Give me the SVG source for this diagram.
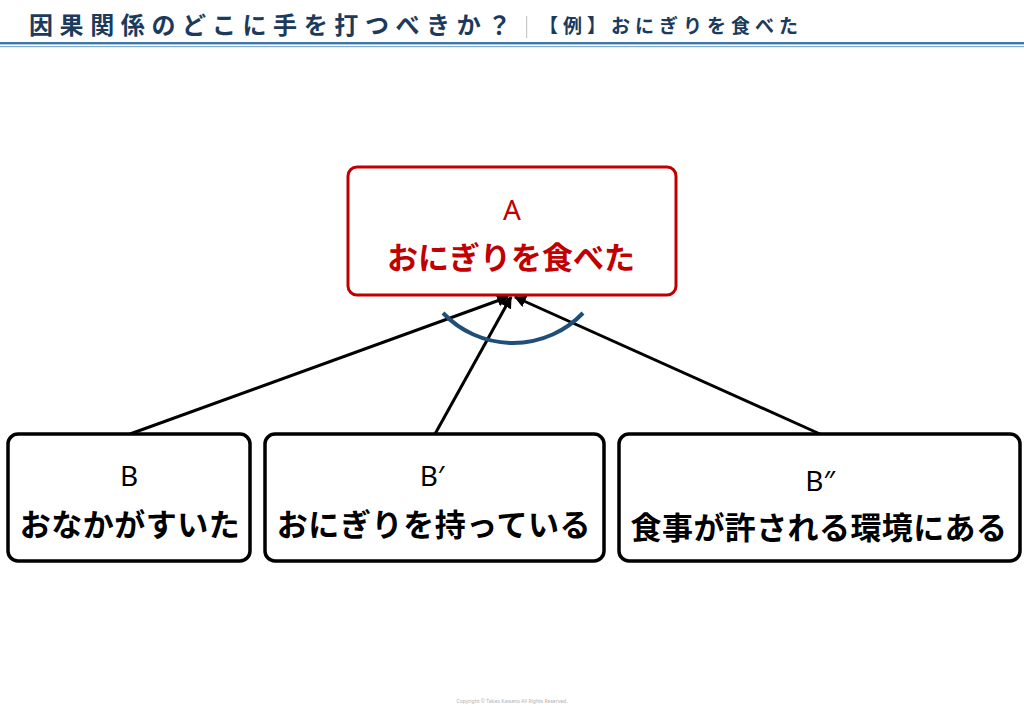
<svg xmlns="http://www.w3.org/2000/svg" width="1024" height="709" viewBox="0 0 1024 709">
<style>
.jp{font-family:"Noto Sans CJK JP","Noto Sans",sans-serif;font-weight:700}
.lat{font-family:"Noto Sans","DejaVu Sans",sans-serif;font-weight:400}
.box{fill:#fff;stroke:#000;stroke-width:3.5}
.conn{stroke:#000;stroke-width:3;fill:none;marker-end:url(#ah)}
</style>
<defs>
<marker id="ah" viewBox="0 0 10 10" refX="9" refY="5" markerWidth="4" markerHeight="4" orient="auto" markerUnits="strokeWidth">
<path d="M0,0 L10,5 L0,10 z" fill="#000"/>
</marker>
</defs>
<rect width="1024" height="709" fill="#fff"/>
<g id="header">
<text x="29" y="34" class="jp" font-size="24" letter-spacing="6.6" fill="#1b3a5c">因果関係のどこに手を打つべきか？</text>
<rect x="526" y="16" width="1.2" height="22" fill="#c8c8c8"/>
<text x="539" y="33" class="jp" font-size="19" letter-spacing="5" fill="#1b3a5c">【例】おにぎりを食べた</text>
<rect x="0" y="42" width="1024" height="2.4" fill="#3f78a6"/>
<rect x="0" y="46" width="1024" height="1.2" fill="#7eaacc"/>
</g>
<g id="connectors">
<line x1="130" y1="434" x2="508" y2="297" class="conn"/>
<line x1="435" y1="434" x2="511" y2="297" class="conn"/>
<line x1="820" y1="434" x2="515" y2="297" class="conn"/>
<path d="M443,313 A96.6,96.6 0 0 0 583,313" fill="none" stroke="#1f4e79" stroke-width="4"/>
</g>
<g id="nodeA">
<rect x="348" y="167" width="328" height="128" rx="9" fill="#fff" stroke="#c00000" stroke-width="3"/>
<text x="512" y="220" class="lat" font-size="28" text-anchor="middle" fill="#c00000">A</text>
<text x="511" y="269" class="jp" font-size="31" text-anchor="middle" fill="#c00000">おにぎりを食べた</text>
</g>
<g id="nodeB">
<rect x="8" y="434" width="242" height="127" rx="10" class="box"/>
<text x="129" y="486" class="lat" font-size="28" text-anchor="middle">B</text>
<text x="130" y="536" class="jp" font-size="31" text-anchor="middle" letter-spacing="0.5">おなかがすいた</text>
</g>
<g id="nodeB1">
<rect x="265" y="434" width="339" height="127" rx="10" class="box"/>
<text x="432" y="486" class="lat" font-size="28" text-anchor="middle">B′</text>
<text x="434" y="536" class="jp" font-size="31" text-anchor="middle" letter-spacing="0.6">おにぎりを持っている</text>
</g>
<g id="nodeB2">
<rect x="619" y="434" width="401" height="127" rx="10" class="box"/>
<text x="820" y="491" class="lat" font-size="28" text-anchor="middle">B″</text>
<text x="819" y="539" class="jp" font-size="31" text-anchor="middle" letter-spacing="0.4">食事が許される環境にある</text>
</g>
<text x="512" y="703" class="lat" font-size="5" text-anchor="middle" fill="#b0b0b0">Copyright © Takao Kawano All Rights Reserved.</text>
</svg>
